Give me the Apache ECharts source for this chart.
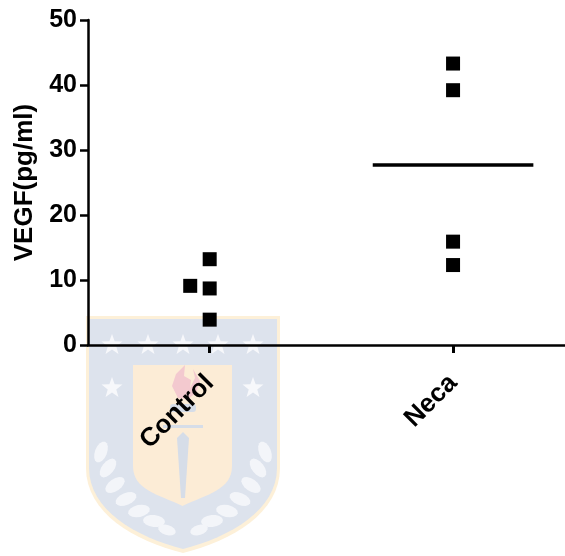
<!DOCTYPE html>
<html>
<head>
<meta charset="utf-8">
<script src="https://cdn.jsdelivr.net/npm/echarts@6/dist/echarts.min.js"></script>
<style>
  html, body { margin: 0; padding: 0; background: #fff; }
  #chart { width: 565px; height: 556px; }
</style>
</head>
<body>
<div id="chart"></div>
<script>
// Groups and VEGF measurements (pg/ml)
const categories = ['Control', 'Neca'];
const controlValues = [13.2, 9.1, 8.7, 3.9];
const necaValues = [43.3, 39.2, 15.9, 12.3];
// horizontal spread of points within a column (fraction of a category band)
const controlSpread = [0, -0.08, 0, 0];
const necaSpread = [0, 0, 0, 0];
const yTicks = [0, 10, 20, 30, 40, 50];
const groupPositions = categories.map((c, i) => i);

const FONT = '"Liberation Sans", Arial, sans-serif';

function mean(arr) {
  return arr.reduce((s, v) => s + v, 0) / arr.length;
}

function columnPoints(groupIndex, values, spread) {
  return values.map((v, i) => [groupIndex + spread[i], v]);
}

// ---- crest ornament helpers ----
function cubic(p0, p1, p2, p3, n) {
  const out = [];
  for (let i = 1; i <= n; i++) {
    const t = i / n, u = 1 - t;
    out.push([
      u * u * u * p0[0] + 3 * u * u * t * p1[0] + 3 * u * t * t * p2[0] + t * t * t * p3[0],
      u * u * u * p0[1] + 3 * u * u * t * p1[1] + 3 * u * t * t * p2[1] + t * t * t * p3[1]
    ]);
  }
  return out;
}

// shield outline: flat top, straight sides, curved point at the bottom
function shield(x0, x1, top, sideBottom, tipY, bulge) {
  const cx = (x0 + x1) / 2;
  let pts = [[x0, top], [x1, top], [x1, sideBottom]];
  pts = pts.concat(cubic([x1, sideBottom], [x1, sideBottom + bulge], [cx + (x1 - cx) * 0.5, tipY - 12], [cx, tipY], 16));
  pts = pts.concat(cubic([cx, tipY], [cx - (cx - x0) * 0.5, tipY - 12], [x0, sideBottom + bulge], [x0, sideBottom], 16));
  return pts;
}

function starPoints(cx, cy, rOuter, rInner) {
  const pts = [];
  for (let i = 0; i < 10; i++) {
    const r = i % 2 === 0 ? rOuter : rInner;
    const a = -Math.PI / 2 + i * Math.PI / 5;
    pts.push([cx + r * Math.cos(a), cy + r * Math.sin(a)]);
  }
  return pts;
}

function leaf(cx, cy, len, w, ang) {
  const c = Math.cos(ang), s = Math.sin(ang);
  const pts = [];
  for (let i = 0; i < 16; i++) {
    const t = (i / 16) * Math.PI * 2;
    const u = (len / 2) * Math.cos(t), v = w * Math.sin(t);
    pts.push([cx + u * c - v * s, cy + u * s + v * c]);
  }
  return pts;
}

const crest = [];
crest.push({ type: 'polygon', z: -10, shape: { points: shield(86, 280, 316, 468, 553, 45) }, style: { fill: '#fdf0d8' } });
crest.push({ type: 'polygon', z: -9, shape: { points: shield(89, 277, 319, 468, 549, 42) }, style: { fill: '#dde3ed' } });
crest.push({ type: 'polygon', z: -8, shape: { points: shield(133, 232, 365, 466, 506, 24) }, style: { fill: '#fcecd6' } });
[[112, 345], [148, 345], [183, 345], [218, 345], [253, 345], [112, 388], [253, 388]].forEach(p => {
  crest.push({ type: 'polygon', z: -7, shape: { points: starPoints(p[0], p[1], 11, 4.5) }, style: { fill: '#f7f8fb' } });
});
// torch
crest.push({ type: 'polygon', z: -7,
  shape: { points: [[178, 398], [172, 386], [176, 374], [185, 365], [184, 376], [191, 380], [190, 388], [195, 378], [193, 369], [200, 381], [196, 393], [188, 399]] },
  style: { fill: '#f3c9cf' } });
crest.push({ type: 'rect', z: -7, shape: { x: 170, y: 404, width: 26, height: 8, r: 3 }, style: { fill: '#d6dde8' } });
crest.push({ type: 'rect', z: -7, shape: { x: 163, y: 425, width: 40, height: 3 }, style: { fill: '#d6dde8' } });
crest.push({ type: 'polygon', z: -7, shape: { points: [[177, 438], [183, 432], [189, 438], [185, 498], [181, 498]] }, style: { fill: '#d6dde8' } });
// laurel leaves
[
  [101, 452, 22, 6, -1.2], [108, 468, 22, 6, -0.9], [115, 485, 22, 6, -0.6], [126, 499, 22, 6, -0.4],
  [139, 511, 22, 6, -0.2], [154, 521, 22, 6, 0.1], [167, 530, 18, 5, 0.3],
  [265, 452, 22, 6, 1.2], [258, 468, 22, 6, 0.9], [251, 485, 22, 6, 0.6], [240, 499, 22, 6, 0.4],
  [227, 511, 22, 6, 0.2], [212, 521, 22, 6, -0.1], [199, 530, 18, 5, -0.3]
].forEach(l => {
  crest.push({ type: 'polygon', z: -7, shape: { points: leaf(l[0], l[1], l[2], l[3], l[4]) }, style: { fill: '#f3f5f9' } });
});

const chart = echarts.init(document.getElementById('chart'), null, { renderer: 'canvas' });

chart.setOption({
  animation: false,
  backgroundColor: '#ffffff',
  graphic: crest,
  grid: { left: 88, right: 0, top: 20, bottom: 211, containLabel: false },
  xAxis: {
    type: 'value',
    min: -0.5, max: 1.46,
    axisLine: { show: true, onZero: false, lineStyle: { color: '#000', width: 2.5 } },
    axisTick: { show: true, length: 8, customValues: groupPositions, lineStyle: { color: '#000', width: 3 } },
    axisLabel: {
      rotate: 45, margin: 34,
      customValues: groupPositions,
      formatter: v => categories[Math.round(v)] || '',
      color: '#000', fontFamily: FONT, fontWeight: 'bold', fontSize: 26
    },
    splitLine: { show: false }
  },
  yAxis: {
    type: 'value',
    min: 0, max: 50, interval: 10,
    name: 'VEGF(pg/ml)',
    nameLocation: 'middle',
    nameGap: 44,
    nameTextStyle: { color: '#000', fontFamily: FONT, fontWeight: 'bold', fontSize: 26 },
    axisLine: { show: true, onZero: false, lineStyle: { color: '#000', width: 2.5 } },
    axisTick: { show: true, length: 8, lineStyle: { color: '#000', width: 2.5 } },
    axisLabel: {
      margin: 11,
      color: '#000', fontFamily: FONT, fontWeight: 'bold', fontSize: 25,
      formatter: v => (yTicks.indexOf(v) >= 0 ? String(v) : '')
    },
    splitLine: { show: false }
  },
  series: [
    {
      type: 'scatter',
      symbol: 'rect',
      symbolSize: 14,
      itemStyle: { color: '#000', opacity: 1 },
      data: columnPoints(0, controlValues, controlSpread)
    },
    {
      type: 'scatter',
      symbol: 'rect',
      symbolSize: 14,
      itemStyle: { color: '#000', opacity: 1 },
      data: columnPoints(1, necaValues, necaSpread)
    },
    {
      // group mean bar
      type: 'custom',
      data: [[1, mean(necaValues)]],
      renderItem: function (params, api) {
        const x = api.value(0), y = api.value(1);
        const a = api.coord([x - 0.33, y]);
        const b = api.coord([x + 0.33, y]);
        return {
          type: 'line',
          shape: { x1: a[0], y1: a[1], x2: b[0], y2: b[1] },
          style: { stroke: '#000', lineWidth: 3.5 }
        };
      }
    }
  ]
});
</script>
</body>
</html>
